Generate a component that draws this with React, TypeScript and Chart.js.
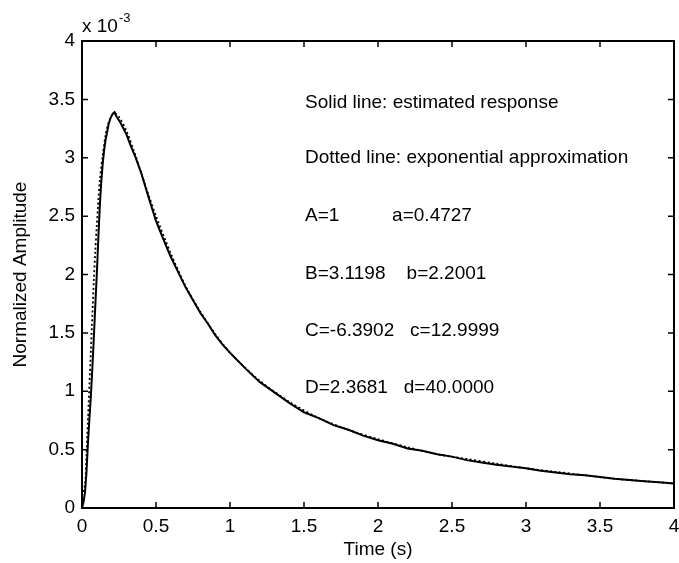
import React, { useEffect, useRef } from "react";
import { Chart, registerables } from "chart.js";

Chart.register(...registerables);

// ---- data (amplitude in units of 1e-3) ----
const solidTime = [
  0, 0.01, 0.02, 0.03, 0.04, 0.05, 0.06, 0.07, 0.08, 0.09, 0.1, 0.11, 0.12, 0.13, 0.14, 0.15, 0.16,
  0.17, 0.18, 0.19, 0.2, 0.21, 0.22, 0.23, 0.24, 0.26, 0.28, 0.3, 0.33, 0.36, 0.4, 0.45, 0.5, 0.55,
  0.6, 0.65, 0.7, 0.75, 0.8, 0.85, 0.9, 0.95, 1.0, 1.1, 1.2, 1.3, 1.4, 1.5, 1.6, 1.7, 1.8, 1.9, 2.0,
  2.1, 2.2, 2.3, 2.4, 2.5, 2.6, 2.7, 2.8, 2.9, 3.0, 3.1, 3.2, 3.3, 3.4, 3.5, 3.6, 3.7, 3.8, 3.9, 4.0,
];
const solidValue = [
  0, 0.05, 0.13, 0.3, 0.55, 0.76, 0.96, 1.2, 1.46, 1.74, 2.0, 2.3, 2.58, 2.79, 2.95, 3.07, 3.16,
  3.22, 3.29, 3.33, 3.36, 3.38, 3.39, 3.36, 3.34, 3.3, 3.25, 3.2, 3.1, 3.01, 2.87, 2.66, 2.46, 2.3,
  2.15, 2.02, 1.89, 1.78, 1.67, 1.58, 1.48, 1.4, 1.33, 1.2, 1.08, 0.99, 0.9, 0.82, 0.77, 0.71, 0.67,
  0.62, 0.58, 0.55, 0.51, 0.49, 0.46, 0.44, 0.41, 0.39, 0.37, 0.355, 0.34, 0.32, 0.305, 0.29, 0.28,
  0.265, 0.25, 0.24, 0.23, 0.22, 0.21,
];
const dottedTime = [
  0, 0.02, 0.03, 0.04, 0.05, 0.06, 0.07, 0.08, 0.09, 0.1, 0.12, 0.14, 0.16, 0.18, 0.2, 0.22, 0.25,
  0.3, 0.35, 0.4, 0.45, 0.5, 0.6, 0.7, 0.8, 0.9, 1.0, 1.2, 1.4, 1.6, 1.8, 2.0, 2.2, 2.4, 2.6, 2.8,
  3.0, 3.2, 3.4, 3.6, 3.8, 4.0,
];
const dottedValue = [
  0.1, 0.2, 0.45, 0.75, 1.05, 1.35, 1.65, 1.95, 2.2, 2.42, 2.8, 3.02, 3.2, 3.3, 3.36, 3.38, 3.35,
  3.23, 3.06, 2.87, 2.68, 2.5, 2.18, 1.9, 1.68, 1.49, 1.33, 1.09, 0.91, 0.77, 0.67, 0.59, 0.52, 0.46,
  0.42, 0.38, 0.34, 0.31, 0.28, 0.25, 0.23, 0.21,
];

const xTicks = [0, 0.5, 1, 1.5, 2, 2.5, 3, 3.5, 4];
const yTicks = [0, 0.5, 1, 1.5, 2, 2.5, 3, 3.5, 4];

const noteLines = [
  "Solid line: estimated response",
  "Dotted line: exponential approximation",
  "A=1          a=0.4727",
  "B=3.1198    b=2.2001",
  "C=-6.3902   c=12.9999",
  "D=2.3681   d=40.0000",
];
const noteY = [3.47, 3.0, 2.5, 2.01, 1.52, 1.03];
const noteX = 1.5;

const FONT = "'Liberation Sans', Arial, Helvetica, sans-serif";

const framePlugin = {
  id: "matlabFrame",
  afterDraw(chart: any) {
    const { ctx, chartArea, scales } = chart;
    const { left, right, top, bottom } = chartArea;
    const x = scales.x;
    const y = scales.y;
    ctx.save();
    ctx.strokeStyle = "#000";
    ctx.lineWidth = 2;
    ctx.strokeRect(left, top, right - left, bottom - top);
    ctx.lineWidth = 1.5;
    const tl = 6;
    ctx.beginPath();
    xTicks.forEach((v) => {
      const px = x.getPixelForValue(v);
      ctx.moveTo(px, bottom);
      ctx.lineTo(px, bottom - tl);
      ctx.moveTo(px, top);
      ctx.lineTo(px, top + tl);
    });
    yTicks.forEach((v) => {
      const py = y.getPixelForValue(v);
      ctx.moveTo(left, py);
      ctx.lineTo(left + tl, py);
      ctx.moveTo(right, py);
      ctx.lineTo(right - tl, py);
    });
    ctx.stroke();

    // exponent label
    ctx.fillStyle = "#000";
    ctx.textAlign = "left";
    ctx.textBaseline = "alphabetic";
    ctx.font = `19px ${FONT}`;
    const base = "x 10";
    ctx.fillText(base, left, top - 9);
    const w = ctx.measureText(base).width;
    ctx.font = `13px ${FONT}`;
    ctx.fillText("-3", left + w + 1, top - 19);

    // annotations
    ctx.font = `19px ${FONT}`;
    ctx.textBaseline = "middle";
    noteLines.forEach((t, i) => {
      ctx.fillText(t, x.getPixelForValue(noteX) + 1, y.getPixelForValue(noteY[i]));
    });
    ctx.restore();
  },
};

export default function App() {
  const ref = useRef<HTMLCanvasElement>(null);
  useEffect(() => {
    document.body.style.margin = "0";
    document.body.style.background = "#fff";
    const canvas = ref.current!;
    const chart = new Chart(canvas, {
      type: "line",
      data: {
        datasets: [
          {
            label: "estimated response",
            data: solidTime.map((t, i) => ({ x: t, y: solidValue[i] })),
            borderColor: "#000",
            borderWidth: 2,
            pointRadius: 0,
            tension: 0,
            fill: false,
          },
          {
            label: "exponential approximation",
            data: dottedTime.map((t, i) => ({ x: t, y: dottedValue[i] })),
            borderColor: "#000",
            borderWidth: 1.8,
            borderDash: [2, 2.5],
            pointRadius: 0,
            tension: 0.3,
            fill: false,
          },
        ],
      },
      plugins: [framePlugin],
      options: {
        responsive: false,
        animation: false,
        layout: { padding: { left: 0, top: 41, right: 16, bottom: 0 } },
        plugins: { legend: { display: false }, tooltip: { enabled: false } },
        scales: {
          x: {
            type: "linear",
            min: 0,
            max: 4,
            grid: { display: false, drawTicks: false },
            border: { display: false },
            afterBuildTicks: (s: any) => {
              s.ticks = xTicks.map((v) => ({ value: v }));
            },
            afterFit: (s: any) => {
              s.height = 55;
            },
            ticks: {
              color: "#000",
              font: { family: FONT, size: 19 },
              padding: 7,
              maxRotation: 0,
              callback: (v: any) => String(v),
            },
            title: {
              display: true,
              text: "Time (s)",
              color: "#000",
              font: { family: FONT, size: 19 },
              padding: { top: 0, bottom: 2 },
            },
          },
          y: {
            type: "linear",
            min: 0,
            max: 4,
            grid: { display: false, drawTicks: false },
            border: { display: false },
            afterBuildTicks: (s: any) => {
              s.ticks = yTicks.map((v) => ({ value: v }));
            },
            afterFit: (s: any) => {
              s.width = 82;
            },
            ticks: {
              color: "#000",
              font: { family: FONT, size: 19 },
              padding: 7,
              callback: (v: any) => String(v),
            },
            title: {
              display: true,
              text: "Normalized Amplitude",
              color: "#000",
              font: { family: FONT, size: 19 },
              padding: { top: 9, bottom: 0 },
            },
          },
        },
      },
    } as any);
    return () => chart.destroy();
  }, []);
  return (
    <div style={{ width: 679, height: 563, overflow: "hidden", background: "#fff" }}>
      <canvas ref={ref} width={690} height={563} style={{ display: "block" }} />
    </div>
  );
}
